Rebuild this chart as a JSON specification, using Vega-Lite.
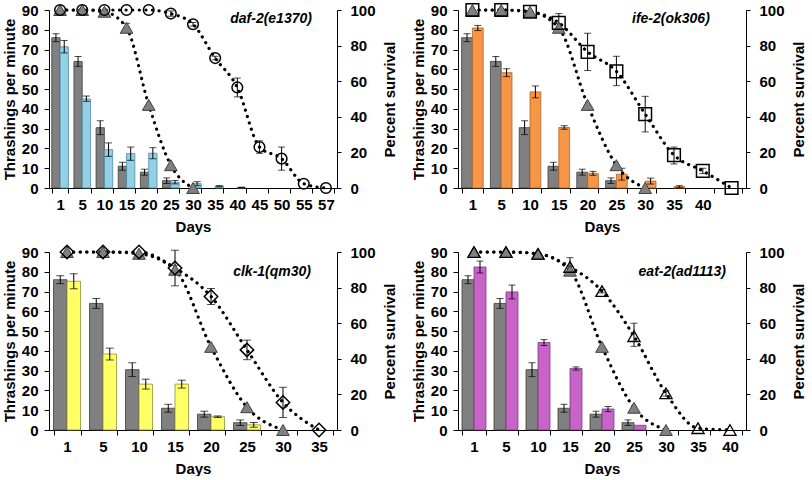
{
"$schema": "https://vega.github.io/schema/vega-lite/v6.json",
"padding": {"left": 2, "top": 0, "right": 0, "bottom": 0},
"background": "white",
"datasets": {
"bars": [
{"p":1,"d":1,"g":"N2","v":76,"lo":74,"hi":78},{"p":1,"d":5,"g":"N2","v":64,"lo":61.5,"hi":66.5},{"p":1,"d":10,"g":"N2","v":30.5,"lo":27,"hi":34},{"p":1,"d":15,"g":"N2","v":11,"lo":9,"hi":13},{"p":1,"d":20,"g":"N2","v":8,"lo":6.5,"hi":9.5},{"p":1,"d":25,"g":"N2","v":3.7,"lo":2.3,"hi":5.1},
{"p":1,"d":1,"g":"mut","v":71.4,"lo":68.3,"hi":74.6},{"p":1,"d":5,"g":"mut","v":45,"lo":43.8,"hi":46.5},{"p":1,"d":10,"g":"mut","v":19.4,"lo":16,"hi":22.8},{"p":1,"d":15,"g":"mut","v":17.4,"lo":14,"hi":20.7},{"p":1,"d":20,"g":"mut","v":17.6,"lo":14.8,"hi":20.4},{"p":1,"d":25,"g":"mut","v":2.9,"lo":2.1,"hi":3.8},{"p":1,"d":30,"g":"mut","v":2.2,"lo":1.2,"hi":3.2},{"p":1,"d":35,"g":"mut","v":0.9,"lo":0.6,"hi":1.2},{"p":1,"d":40,"g":"mut","v":0.3,"lo":0.2,"hi":0.4},
{"p":2,"d":1,"g":"N2","v":76,"lo":74,"hi":78},{"p":2,"d":5,"g":"N2","v":64,"lo":61.5,"hi":66.5},{"p":2,"d":10,"g":"N2","v":30.5,"lo":27,"hi":34},{"p":2,"d":15,"g":"N2","v":11,"lo":9,"hi":13},{"p":2,"d":20,"g":"N2","v":8,"lo":6.5,"hi":9.5},{"p":2,"d":25,"g":"N2","v":3.7,"lo":2.3,"hi":5.1},
{"p":2,"d":1,"g":"mut","v":80.9,"lo":79.6,"hi":82.2},{"p":2,"d":5,"g":"mut","v":58.3,"lo":56.3,"hi":60.3},{"p":2,"d":10,"g":"mut","v":48.6,"lo":45.6,"hi":51.6},{"p":2,"d":15,"g":"mut","v":30.6,"lo":29.7,"hi":31.5},{"p":2,"d":20,"g":"mut","v":7.4,"lo":6.4,"hi":8.4},{"p":2,"d":25,"g":"mut","v":7,"lo":4,"hi":10},{"p":2,"d":30,"g":"mut","v":3.5,"lo":2,"hi":5},{"p":2,"d":35,"g":"mut","v":0.7,"lo":0.2,"hi":1.2},
{"p":3,"d":1,"g":"N2","v":76,"lo":74,"hi":78},{"p":3,"d":5,"g":"N2","v":64,"lo":61.5,"hi":66.5},{"p":3,"d":10,"g":"N2","v":30.5,"lo":27,"hi":34},{"p":3,"d":15,"g":"N2","v":11,"lo":9,"hi":13},{"p":3,"d":20,"g":"N2","v":8,"lo":6.5,"hi":9.5},{"p":3,"d":25,"g":"N2","v":3.7,"lo":2.3,"hi":5.1},
{"p":3,"d":1,"g":"mut","v":75.2,"lo":71.4,"hi":79},{"p":3,"d":5,"g":"mut","v":38.4,"lo":35.4,"hi":41.4},{"p":3,"d":10,"g":"mut","v":23.2,"lo":20.7,"hi":25.7},{"p":3,"d":15,"g":"mut","v":23.2,"lo":21.2,"hi":25.2},{"p":3,"d":20,"g":"mut","v":6.7,"lo":6.3,"hi":7.1},{"p":3,"d":25,"g":"mut","v":2.6,"lo":1.4,"hi":3.8},
{"p":4,"d":1,"g":"N2","v":76,"lo":74,"hi":78},{"p":4,"d":5,"g":"N2","v":64,"lo":61.5,"hi":66.5},{"p":4,"d":10,"g":"N2","v":30.5,"lo":27,"hi":34},{"p":4,"d":15,"g":"N2","v":11,"lo":9,"hi":13},{"p":4,"d":20,"g":"N2","v":8,"lo":6.5,"hi":9.5},{"p":4,"d":25,"g":"N2","v":3.7,"lo":2.3,"hi":5.1},
{"p":4,"d":1,"g":"mut","v":82.4,"lo":79.4,"hi":85.4},{"p":4,"d":5,"g":"mut","v":69.8,"lo":66.3,"hi":73.3},{"p":4,"d":10,"g":"mut","v":44.2,"lo":42.7,"hi":45.7},{"p":4,"d":15,"g":"mut","v":31.1,"lo":30.3,"hi":31.9},{"p":4,"d":20,"g":"mut","v":10.6,"lo":9.3,"hi":11.9},{"p":4,"d":25,"g":"mut","v":2.4}
],
"surv": [
{"p":1,"d":1,"s":"N2","v":100},{"p":1,"d":5,"s":"N2","v":100},{"p":1,"d":10,"s":"N2","v":99},{"p":1,"d":15,"s":"N2","v":90,"lo":87.5,"hi":92.5},{"p":1,"d":20,"s":"N2","v":46.7},{"p":1,"d":25,"s":"N2","v":12.8},{"p":1,"d":30,"s":"N2","v":0},
{"p":1,"d":1,"s":"m","v":100},{"p":1,"d":5,"s":"m","v":100},{"p":1,"d":10,"s":"m","v":100},{"p":1,"d":15,"s":"m","v":100},{"p":1,"d":20,"s":"m","v":100},{"p":1,"d":25,"s":"m","v":98,"lo":96.5,"hi":99.5},{"p":1,"d":30,"s":"m","v":92,"lo":91,"hi":93},{"p":1,"d":35,"s":"m","v":73,"lo":72,"hi":74},{"p":1,"d":40,"s":"m","v":56.5,"lo":51.2,"hi":61.8},{"p":1,"d":45,"s":"m","v":23,"lo":19.5,"hi":26.5},{"p":1,"d":50,"s":"m","v":16.5,"lo":10,"hi":23},{"p":1,"d":55,"s":"m","v":2.4},{"p":1,"d":57,"s":"m","v":0},
{"p":2,"d":1,"s":"N2","v":100},{"p":2,"d":5,"s":"N2","v":100},{"p":2,"d":10,"s":"N2","v":99},{"p":2,"d":15,"s":"N2","v":90,"lo":87.5,"hi":92.5},{"p":2,"d":20,"s":"N2","v":46.7},{"p":2,"d":25,"s":"N2","v":12.8},{"p":2,"d":30,"s":"N2","v":0},
{"p":2,"d":1,"s":"m","v":100},{"p":2,"d":5,"s":"m","v":100},{"p":2,"d":10,"s":"m","v":99},{"p":2,"d":15,"s":"m","v":92.8,"lo":88,"hi":98},{"p":2,"d":20,"s":"m","v":76.5,"lo":66,"hi":87},{"p":2,"d":25,"s":"m","v":65.5,"lo":57.5,"hi":74},{"p":2,"d":30,"s":"m","v":41.5,"lo":31.5,"hi":51.5},{"p":2,"d":35,"s":"m","v":18.5,"lo":13.5,"hi":23},{"p":2,"d":40,"s":"m","v":9.6,"lo":8.1,"hi":11.1},{"p":2,"d":45,"s":"m","v":0},
{"p":3,"d":1,"s":"N2","v":100},{"p":3,"d":5,"s":"N2","v":100},{"p":3,"d":10,"s":"N2","v":99},{"p":3,"d":15,"s":"N2","v":90,"lo":87.5,"hi":92.5},{"p":3,"d":20,"s":"N2","v":46.7},{"p":3,"d":25,"s":"N2","v":12.8},{"p":3,"d":30,"s":"N2","v":0},
{"p":3,"d":1,"s":"m","v":100},{"p":3,"d":5,"s":"m","v":100},{"p":3,"d":10,"s":"m","v":100},{"p":3,"d":15,"s":"m","v":91,"lo":81,"hi":101},{"p":3,"d":20,"s":"m","v":75,"lo":70.5,"hi":79.5},{"p":3,"d":25,"s":"m","v":45,"lo":39.5,"hi":50.5},{"p":3,"d":30,"s":"m","v":15.5,"lo":7,"hi":24},{"p":3,"d":35,"s":"m","v":0},
{"p":4,"d":1,"s":"N2","v":100},{"p":4,"d":5,"s":"N2","v":100},{"p":4,"d":10,"s":"N2","v":99},{"p":4,"d":15,"s":"N2","v":89.5,"lo":87,"hi":92},{"p":4,"d":20,"s":"N2","v":46.7},{"p":4,"d":25,"s":"N2","v":12.5},{"p":4,"d":30,"s":"N2","v":0},
{"p":4,"d":1,"s":"m","v":100},{"p":4,"d":5,"s":"m","v":100},{"p":4,"d":10,"s":"m","v":99},{"p":4,"d":15,"s":"m","v":91.6,"lo":87,"hi":96.8},{"p":4,"d":20,"s":"m","v":78,"lo":77,"hi":79},{"p":4,"d":25,"s":"m","v":52.7,"lo":47,"hi":60},{"p":4,"d":30,"s":"m","v":20.6,"lo":19,"hi":22},{"p":4,"d":35,"s":"m","v":1},{"p":4,"d":40,"s":"m","v":0}
]
},
"columns": 2,
"bounds": "flush",
"spacing": {"row": 64, "column": 121},
"resolve": {"scale": {"fill": "independent", "stroke": "independent", "xOffset": "independent"}},
"concat": [
{
"width": 288, "height": 178,
"encoding": {"x": {"field": "d", "type": "ordinal", "title": "Days", "scale": {"domain": [1,5,10,15,20,25,30,35,40,45,50,55,57], "paddingInner": 0.25, "paddingOuter": 0.125}}},
"layer": [
{"data": {"name": "bars"}, "transform": [{"filter": "datum.p == 1"}],
 "encoding": {"xOffset": {"field": "g", "type": "nominal", "scale": {"domain": ["N2","mut"]}}},
 "layer": [
  {"mark": {"type": "bar", "strokeWidth": 0.8}, "encoding": {"y": {"field": "v", "type": "quantitative", "title": "Thrashings per minute", "scale": {"domain": [0,90]}, "axis": {"values": [0,10,20,30,40,50,60,70,80,90]}}, "fill": {"field": "g", "type": "nominal", "scale": {"domain": ["N2","mut"], "range": ["#808080","#93cfe5"]}, "legend": null}, "stroke": {"field": "g", "type": "nominal", "scale": {"domain": ["N2","mut"], "range": ["#3d3d3d","#4d8ba0"]}, "legend": null}}},
  {"transform": [{"filter": "isValid(datum.lo)"}], "mark": {"type": "rule", "color": "#000", "strokeWidth": 1}, "encoding": {"y": {"field": "lo", "type": "quantitative", "title": "Thrashings per minute", "axis": {"values": [0,10,20,30,40,50,60,70,80,90]}}, "y2": {"field": "hi"}}},
  {"transform": [{"filter": "isValid(datum.lo)"}], "mark": {"type": "tick", "color": "#000", "thickness": 1, "size": 7}, "encoding": {"y": {"field": "lo", "type": "quantitative", "title": "Thrashings per minute", "axis": {"values": [0,10,20,30,40,50,60,70,80,90]}}}},
  {"transform": [{"filter": "isValid(datum.lo)"}], "mark": {"type": "tick", "color": "#000", "thickness": 1, "size": 7}, "encoding": {"y": {"field": "hi", "type": "quantitative", "title": "Thrashings per minute", "axis": {"values": [0,10,20,30,40,50,60,70,80,90]}}}}
 ]},
{"data": {"name": "surv"}, "transform": [{"filter": "datum.p == 1"}],
 "layer": [
  {"mark": {"type": "line", "interpolate": "monotone", "strokeDash": [0.1, 6.5], "strokeCap": "round", "strokeWidth": 3.2, "color": "#000"}, "encoding": {"y": {"field": "v", "type": "quantitative", "title": "Percent survival", "scale": {"domain": [0,100]}, "axis": {"orient": "right", "values": [0,20,40,60,80,100]}}, "detail": {"field": "s"}}},
  {"transform": [{"filter": "isValid(datum.lo)"}], "mark": {"type": "rule", "color": "#000", "strokeWidth": 1}, "encoding": {"y": {"field": "lo", "type": "quantitative", "title": "Percent survival", "axis": {"orient": "right", "values": [0,20,40,60,80,100]}}, "y2": {"field": "hi"}}},
  {"transform": [{"filter": "isValid(datum.lo)"}], "mark": {"type": "tick", "color": "#000", "thickness": 1, "size": 7}, "encoding": {"y": {"field": "lo", "type": "quantitative", "title": "Percent survival", "axis": {"orient": "right", "values": [0,20,40,60,80,100]}}}},
  {"transform": [{"filter": "isValid(datum.lo)"}], "mark": {"type": "tick", "color": "#000", "thickness": 1, "size": 7}, "encoding": {"y": {"field": "hi", "type": "quantitative", "title": "Percent survival", "axis": {"orient": "right", "values": [0,20,40,60,80,100]}}}},
  {"transform": [{"filter": "datum.s == 'N2'"}], "mark": {"type": "point", "shape": "triangle-up", "filled": true, "fill": "#808080", "stroke": "#404040", "strokeWidth": 1, "size": 160, "opacity": 1}, "encoding": {"y": {"field": "v", "type": "quantitative", "title": "Percent survival", "axis": {"orient": "right", "values": [0,20,40,60,80,100]}}}},
  {"transform": [{"filter": "datum.s != 'N2'"}], "mark": {"type": "point", "shape": "circle", "filled": false, "stroke": "#000", "strokeWidth": 1.5, "size": 113, "opacity": 1}, "encoding": {"y": {"field": "v", "type": "quantitative", "title": "Percent survival", "axis": {"orient": "right", "values": [0,20,40,60,80,100]}}}},
  {"data": {"values": [{"t": "daf-2(e1370)"}]}, "mark": {"type": "text", "align": "right", "baseline": "middle", "dx": -14, "fontSize": 14, "fontWeight": "bold", "fontStyle": "italic", "font": "Liberation Sans", "color": "#000"}, "encoding": {"text": {"field": "t"}, "x": {"datum": 57, "type": "ordinal"}, "y": {"datum": 95, "type": "quantitative", "title": "Percent survival", "axis": {"orient": "right", "values": [0,20,40,60,80,100]}}}}
 ]}
],
"resolve": {"scale": {"y": "independent"}}
},
{
"width": 288, "height": 178,
"encoding": {"x": {"field": "d", "type": "ordinal", "title": "Days", "scale": {"domain": [1,5,10,15,20,25,30,35,40,45], "paddingInner": 0.25, "paddingOuter": 0.125}, "axis": {"labelExpr": "datum.value == 45 ? '' : datum.label"}}},
"layer": [
{"data": {"name": "bars"}, "transform": [{"filter": "datum.p == 2"}],
 "encoding": {"xOffset": {"field": "g", "type": "nominal", "scale": {"domain": ["N2","mut"]}}},
 "layer": [
  {"mark": {"type": "bar", "strokeWidth": 0.8}, "encoding": {"y": {"field": "v", "type": "quantitative", "title": "Thrashings per minute", "scale": {"domain": [0,90]}, "axis": {"values": [0,10,20,30,40,50,60,70,80,90]}}, "fill": {"field": "g", "type": "nominal", "scale": {"domain": ["N2","mut"], "range": ["#808080","#f79646"]}, "legend": null}, "stroke": {"field": "g", "type": "nominal", "scale": {"domain": ["N2","mut"], "range": ["#3d3d3d","#b0652a"]}, "legend": null}}},
  {"transform": [{"filter": "isValid(datum.lo)"}], "mark": {"type": "rule", "color": "#000", "strokeWidth": 1}, "encoding": {"y": {"field": "lo", "type": "quantitative", "title": "Thrashings per minute", "axis": {"values": [0,10,20,30,40,50,60,70,80,90]}}, "y2": {"field": "hi"}}},
  {"transform": [{"filter": "isValid(datum.lo)"}], "mark": {"type": "tick", "color": "#000", "thickness": 1, "size": 7}, "encoding": {"y": {"field": "lo", "type": "quantitative", "title": "Thrashings per minute", "axis": {"values": [0,10,20,30,40,50,60,70,80,90]}}}},
  {"transform": [{"filter": "isValid(datum.lo)"}], "mark": {"type": "tick", "color": "#000", "thickness": 1, "size": 7}, "encoding": {"y": {"field": "hi", "type": "quantitative", "title": "Thrashings per minute", "axis": {"values": [0,10,20,30,40,50,60,70,80,90]}}}}
 ]},
{"data": {"name": "surv"}, "transform": [{"filter": "datum.p == 2"}],
 "layer": [
  {"mark": {"type": "line", "interpolate": "monotone", "strokeDash": [0.1, 6.5], "strokeCap": "round", "strokeWidth": 3.2, "color": "#000"}, "encoding": {"y": {"field": "v", "type": "quantitative", "title": "Percent survival", "scale": {"domain": [0,100]}, "axis": {"orient": "right", "values": [0,20,40,60,80,100]}}, "detail": {"field": "s"}}},
  {"transform": [{"filter": "isValid(datum.lo)"}], "mark": {"type": "rule", "color": "#000", "strokeWidth": 1}, "encoding": {"y": {"field": "lo", "type": "quantitative", "title": "Percent survival", "axis": {"orient": "right", "values": [0,20,40,60,80,100]}}, "y2": {"field": "hi"}}},
  {"transform": [{"filter": "isValid(datum.lo)"}], "mark": {"type": "tick", "color": "#000", "thickness": 1, "size": 7}, "encoding": {"y": {"field": "lo", "type": "quantitative", "title": "Percent survival", "axis": {"orient": "right", "values": [0,20,40,60,80,100]}}}},
  {"transform": [{"filter": "isValid(datum.lo)"}], "mark": {"type": "tick", "color": "#000", "thickness": 1, "size": 7}, "encoding": {"y": {"field": "hi", "type": "quantitative", "title": "Percent survival", "axis": {"orient": "right", "values": [0,20,40,60,80,100]}}}},
  {"transform": [{"filter": "datum.s == 'N2'"}], "mark": {"type": "point", "shape": "triangle-up", "filled": true, "fill": "#808080", "stroke": "#404040", "strokeWidth": 1, "size": 160, "opacity": 1}, "encoding": {"y": {"field": "v", "type": "quantitative", "title": "Percent survival", "axis": {"orient": "right", "values": [0,20,40,60,80,100]}}}},
  {"transform": [{"filter": "datum.s != 'N2'"}], "mark": {"type": "point", "shape": "square", "filled": false, "stroke": "#000", "strokeWidth": 1.5, "size": 160, "opacity": 1}, "encoding": {"y": {"field": "v", "type": "quantitative", "title": "Percent survival", "axis": {"orient": "right", "values": [0,20,40,60,80,100]}}}},
  {"data": {"values": [{"t": "ife-2(ok306)"}]}, "mark": {"type": "text", "align": "right", "baseline": "middle", "dx": 7, "fontSize": 14, "fontWeight": "bold", "fontStyle": "italic", "font": "Liberation Sans", "color": "#000"}, "encoding": {"text": {"field": "t"}, "x": {"datum": 40, "type": "ordinal"}, "y": {"datum": 95, "type": "quantitative", "title": "Percent survival", "axis": {"orient": "right", "values": [0,20,40,60,80,100]}}}}
 ]}
],
"resolve": {"scale": {"y": "independent"}}
},
{
"width": 288, "height": 178,
"encoding": {"x": {"field": "d", "type": "ordinal", "title": "Days", "scale": {"domain": [1,5,10,15,20,25,30,35], "paddingInner": 0.25, "paddingOuter": 0.125}}},
"layer": [
{"data": {"name": "bars"}, "transform": [{"filter": "datum.p == 3"}],
 "encoding": {"xOffset": {"field": "g", "type": "nominal", "scale": {"domain": ["N2","mut"]}}},
 "layer": [
  {"mark": {"type": "bar", "strokeWidth": 0.8}, "encoding": {"y": {"field": "v", "type": "quantitative", "title": "Thrashings per minute", "scale": {"domain": [0,90]}, "axis": {"values": [0,10,20,30,40,50,60,70,80,90]}}, "fill": {"field": "g", "type": "nominal", "scale": {"domain": ["N2","mut"], "range": ["#808080","#ffff66"]}, "legend": null}, "stroke": {"field": "g", "type": "nominal", "scale": {"domain": ["N2","mut"], "range": ["#3d3d3d","#8f8f3a"]}, "legend": null}}},
  {"transform": [{"filter": "isValid(datum.lo)"}], "mark": {"type": "rule", "color": "#000", "strokeWidth": 1}, "encoding": {"y": {"field": "lo", "type": "quantitative", "title": "Thrashings per minute", "axis": {"values": [0,10,20,30,40,50,60,70,80,90]}}, "y2": {"field": "hi"}}},
  {"transform": [{"filter": "isValid(datum.lo)"}], "mark": {"type": "tick", "color": "#000", "thickness": 1, "size": 8}, "encoding": {"y": {"field": "lo", "type": "quantitative", "title": "Thrashings per minute", "axis": {"values": [0,10,20,30,40,50,60,70,80,90]}}}},
  {"transform": [{"filter": "isValid(datum.lo)"}], "mark": {"type": "tick", "color": "#000", "thickness": 1, "size": 8}, "encoding": {"y": {"field": "hi", "type": "quantitative", "title": "Thrashings per minute", "axis": {"values": [0,10,20,30,40,50,60,70,80,90]}}}}
 ]},
{"data": {"name": "surv"}, "transform": [{"filter": "datum.p == 3"}],
 "layer": [
  {"mark": {"type": "line", "interpolate": "monotone", "strokeDash": [0.1, 6.5], "strokeCap": "round", "strokeWidth": 3.2, "color": "#000"}, "encoding": {"y": {"field": "v", "type": "quantitative", "title": "Percent survival", "scale": {"domain": [0,100]}, "axis": {"orient": "right", "values": [0,20,40,60,80,100]}}, "detail": {"field": "s"}}},
  {"transform": [{"filter": "isValid(datum.lo)"}], "mark": {"type": "rule", "color": "#000", "strokeWidth": 1}, "encoding": {"y": {"field": "lo", "type": "quantitative", "title": "Percent survival", "axis": {"orient": "right", "values": [0,20,40,60,80,100]}}, "y2": {"field": "hi"}}},
  {"transform": [{"filter": "isValid(datum.lo)"}], "mark": {"type": "tick", "color": "#000", "thickness": 1, "size": 8}, "encoding": {"y": {"field": "lo", "type": "quantitative", "title": "Percent survival", "axis": {"orient": "right", "values": [0,20,40,60,80,100]}}}},
  {"transform": [{"filter": "isValid(datum.lo)"}], "mark": {"type": "tick", "color": "#000", "thickness": 1, "size": 8}, "encoding": {"y": {"field": "hi", "type": "quantitative", "title": "Percent survival", "axis": {"orient": "right", "values": [0,20,40,60,80,100]}}}},
  {"transform": [{"filter": "datum.s == 'N2'"}], "mark": {"type": "point", "shape": "triangle-up", "filled": true, "fill": "#808080", "stroke": "#404040", "strokeWidth": 1, "size": 160, "opacity": 1}, "encoding": {"y": {"field": "v", "type": "quantitative", "title": "Percent survival", "axis": {"orient": "right", "values": [0,20,40,60,80,100]}}}},
  {"transform": [{"filter": "datum.s != 'N2'"}], "mark": {"type": "point", "shape": "diamond", "filled": false, "stroke": "#000", "strokeWidth": 1.5, "size": 180, "opacity": 1}, "encoding": {"y": {"field": "v", "type": "quantitative", "title": "Percent survival", "axis": {"orient": "right", "values": [0,20,40,60,80,100]}}}},
  {"data": {"values": [{"t": "clk-1(qm30)"}]}, "mark": {"type": "text", "align": "right", "baseline": "middle", "dx": -8, "fontSize": 14, "fontWeight": "bold", "fontStyle": "italic", "font": "Liberation Sans", "color": "#000"}, "encoding": {"text": {"field": "t"}, "x": {"datum": 35, "type": "ordinal"}, "y": {"datum": 89, "type": "quantitative", "title": "Percent survival", "axis": {"orient": "right", "values": [0,20,40,60,80,100]}}}}
 ]}
],
"resolve": {"scale": {"y": "independent"}}
},
{
"width": 288, "height": 178,
"encoding": {"x": {"field": "d", "type": "ordinal", "title": "Days", "scale": {"domain": [1,5,10,15,20,25,30,35,40], "paddingInner": 0.25, "paddingOuter": 0.125}}},
"layer": [
{"data": {"name": "bars"}, "transform": [{"filter": "datum.p == 4"}],
 "encoding": {"xOffset": {"field": "g", "type": "nominal", "scale": {"domain": ["N2","mut"]}}},
 "layer": [
  {"mark": {"type": "bar", "strokeWidth": 0.8}, "encoding": {"y": {"field": "v", "type": "quantitative", "title": "Thrashings per minute", "scale": {"domain": [0,90]}, "axis": {"values": [0,10,20,30,40,50,60,70,80,90]}}, "fill": {"field": "g", "type": "nominal", "scale": {"domain": ["N2","mut"], "range": ["#808080","#c864c8"]}, "legend": null}, "stroke": {"field": "g", "type": "nominal", "scale": {"domain": ["N2","mut"], "range": ["#3d3d3d","#7a3a7d"]}, "legend": null}}},
  {"transform": [{"filter": "isValid(datum.lo)"}], "mark": {"type": "rule", "color": "#000", "strokeWidth": 1}, "encoding": {"y": {"field": "lo", "type": "quantitative", "title": "Thrashings per minute", "axis": {"values": [0,10,20,30,40,50,60,70,80,90]}}, "y2": {"field": "hi"}}},
  {"transform": [{"filter": "isValid(datum.lo)"}], "mark": {"type": "tick", "color": "#000", "thickness": 1, "size": 7}, "encoding": {"y": {"field": "lo", "type": "quantitative", "title": "Thrashings per minute", "axis": {"values": [0,10,20,30,40,50,60,70,80,90]}}}},
  {"transform": [{"filter": "isValid(datum.lo)"}], "mark": {"type": "tick", "color": "#000", "thickness": 1, "size": 7}, "encoding": {"y": {"field": "hi", "type": "quantitative", "title": "Thrashings per minute", "axis": {"values": [0,10,20,30,40,50,60,70,80,90]}}}}
 ]},
{"data": {"name": "surv"}, "transform": [{"filter": "datum.p == 4"}],
 "layer": [
  {"mark": {"type": "line", "interpolate": "monotone", "strokeDash": [0.1, 6.5], "strokeCap": "round", "strokeWidth": 3.2, "color": "#000"}, "encoding": {"y": {"field": "v", "type": "quantitative", "title": "Percent survival", "scale": {"domain": [0,100]}, "axis": {"orient": "right", "values": [0,20,40,60,80,100]}}, "detail": {"field": "s"}}},
  {"transform": [{"filter": "isValid(datum.lo)"}], "mark": {"type": "rule", "color": "#000", "strokeWidth": 1}, "encoding": {"y": {"field": "lo", "type": "quantitative", "title": "Percent survival", "axis": {"orient": "right", "values": [0,20,40,60,80,100]}}, "y2": {"field": "hi"}}},
  {"transform": [{"filter": "isValid(datum.lo)"}], "mark": {"type": "tick", "color": "#000", "thickness": 1, "size": 7}, "encoding": {"y": {"field": "lo", "type": "quantitative", "title": "Percent survival", "axis": {"orient": "right", "values": [0,20,40,60,80,100]}}}},
  {"transform": [{"filter": "isValid(datum.lo)"}], "mark": {"type": "tick", "color": "#000", "thickness": 1, "size": 7}, "encoding": {"y": {"field": "hi", "type": "quantitative", "title": "Percent survival", "axis": {"orient": "right", "values": [0,20,40,60,80,100]}}}},
  {"transform": [{"filter": "datum.s == 'N2'"}], "mark": {"type": "point", "shape": "triangle-up", "filled": true, "fill": "#808080", "stroke": "#404040", "strokeWidth": 1, "size": 160, "opacity": 1}, "encoding": {"y": {"field": "v", "type": "quantitative", "title": "Percent survival", "axis": {"orient": "right", "values": [0,20,40,60,80,100]}}}},
  {"transform": [{"filter": "datum.s != 'N2'"}], "mark": {"type": "point", "shape": "triangle-up", "filled": false, "stroke": "#000", "strokeWidth": 1.3, "size": 150, "opacity": 1}, "encoding": {"y": {"field": "v", "type": "quantitative", "title": "Percent survival", "axis": {"orient": "right", "values": [0,20,40,60,80,100]}}}},
  {"data": {"values": [{"t": "eat-2(ad1113)"}]}, "mark": {"type": "text", "align": "right", "baseline": "middle", "dx": -4, "fontSize": 14, "fontWeight": "bold", "fontStyle": "italic", "font": "Liberation Sans", "color": "#000"}, "encoding": {"text": {"field": "t"}, "x": {"datum": 40, "type": "ordinal"}, "y": {"datum": 89, "type": "quantitative", "title": "Percent survival", "axis": {"orient": "right", "values": [0,20,40,60,80,100]}}}}
 ]}
],
"resolve": {"scale": {"y": "independent"}}
}
],
"config": {
 "view": {"stroke": null},
 "font": "Liberation Sans",
 "axis": {"labelFont": "Liberation Sans", "labelFontSize": 15, "labelFontWeight": "bold", "labelColor": "#000", "labelOverlap": false, "titleFont": "Liberation Sans", "titleFontSize": 15, "titleFontWeight": "bold", "titleColor": "#000", "domainColor": "#000", "tickColor": "#000", "grid": false, "tickSize": 5},
 "axisX": {"labelAngle": 0, "tickBand": "extent", "labelPadding": 4, "titlePadding": 7},
 "axisLeft": {"labelPadding": 6, "titlePadding": 4},
 "axisRight": {"labelPadding": 9, "tickSize": 4, "titlePadding": 7, "titleAngle": 270, "titleBaseline": "top"}
}
}
